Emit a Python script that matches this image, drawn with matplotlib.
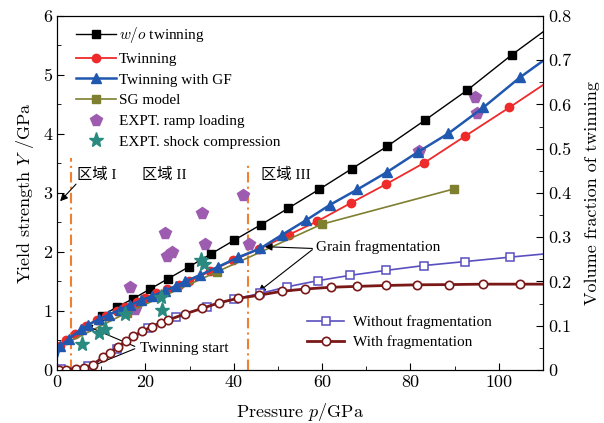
import matplotlib
matplotlib.use("Agg")
import matplotlib.pyplot as plt
from matplotlib.ticker import MultipleLocator, FuncFormatter

plt.rcParams['mathtext.fontset'] = 'cm'
plt.rcParams['axes.formatter.use_mathtext'] = True

# ---------------- data ----------------
# w/o twinning
p_wo = [0, 0.5, 1.2, 3, 6, 8, 10.1, 13.6, 17.3, 21.0, 25.2, 29.9, 34.9, 40.1, 46.1, 52.3,
        59.3, 66.7, 74.7, 83.4, 92.8, 102.9, 110]
y_wo = [0.22, 0.36, 0.45, 0.54, 0.71, 0.80, 0.915, 1.07, 1.21, 1.37, 1.55, 1.75, 1.97, 2.20,
        2.46, 2.74, 3.06, 3.41, 3.79, 4.24, 4.74, 5.34, 5.73]
# Twinning
p_tw = [0, 0.7, 2, 4, 6.5, 9, 11, 13.5, 15.5, 18, 20, 22.5, 25, 27.5, 29.9, 34.6, 39.9,
        45.7, 52.4, 58.9, 66.5, 74.5, 83.1, 92.3, 102.4, 110]
y_tw = [0.22, 0.40, 0.50, 0.61, 0.75, 0.85, 0.91, 1.00, 1.07, 1.15, 1.22, 1.30, 1.37, 1.44,
        1.50, 1.67, 1.86, 2.05, 2.29, 2.52, 2.83, 3.15, 3.51, 3.96, 4.45, 4.83]
# Twinning with GF
p_gf = [0, 0.7, 2.7, 5.5, 7.1, 9.5, 11.8, 14.2, 16.5, 19, 21.4, 24.4, 27, 29, 32.4, 36.5,
        41, 46, 50.9, 56.4, 61.8, 68, 74.6, 81.6, 88.6, 96.5, 104.8, 110]
y_gf = [0.22, 0.40, 0.53, 0.69, 0.77, 0.86, 0.94, 1.02, 1.10, 1.18, 1.25, 1.34, 1.43, 1.50,
        1.61, 1.75, 1.91, 2.06, 2.29, 2.54, 2.80, 3.06, 3.35, 3.69, 4.01, 4.45, 4.96, 5.24]
# SG model
p_sg = [2.8, 15.8, 36.1, 59.9, 89.9]
y_sg = [0.48, 0.97, 1.66, 2.47, 3.07]
# EXPT. ramp loading
p_ramp = [16.5, 17.7, 24.4, 24.9, 26.0, 32.9, 33.4, 42.2, 43.5, 81.9, 94.6, 95.0]
y_ramp = [1.41, 1.03, 2.32, 1.94, 2.00, 2.66, 2.14, 2.97, 2.13, 3.72, 4.63, 4.35]
# EXPT. shock compression
p_shock = [5.7, 9.4, 10.8, 15.4, 23.5, 23.8, 32.6, 33.3]
y_shock = [0.44, 0.63, 0.70, 0.95, 1.24, 1.02, 1.87, 1.80]
# volume fraction of twinning
p_nofrag = [0, 1, 7, 13.5, 20.5, 27, 33.9, 40, 46, 52.1, 59.1, 66.4, 74.4, 83.0, 92.3, 102.5, 110]
v_nofrag = [0.0, 0.002, 0.008, 0.048, 0.094, 0.120, 0.143, 0.160, 0.173, 0.188, 0.202, 0.214,
            0.225, 0.236, 0.245, 0.255, 0.262]
p_frag = [0.4, 2.1, 4.2, 6.2, 8.2, 10.3, 12.0, 13.9, 15.6, 17.3, 19.3, 21.4, 23.5, 25.2, 29.0,
          32.8, 36.7, 41.0, 45.8, 50.9, 56.2, 62.0, 68.0, 74.5, 81.4, 88.7, 96.5, 104.8, 110]
v_frag = [0.0, 0.0, 0.002, 0.005, 0.011, 0.029, 0.039, 0.053, 0.066, 0.077, 0.087, 0.098, 0.107,
          0.113, 0.127, 0.139, 0.152, 0.162, 0.169, 0.178, 0.183, 0.187, 0.189, 0.191, 0.1925,
          0.193, 0.194, 0.194, 0.194]
# region boundaries
p_bound = [3.1, 43.3]
y_bound_top = [3.6, 3.52]

# ---------------- figure ----------------
fig = plt.figure(figsize=(6.04, 4.23), dpi=100)
ax = fig.add_axes([0.0944, 0.1253, 0.8046, 0.8369])
ax2 = ax.twinx()

serif = ['Liberation Serif', 'Noto Sans CJK SC']
cjk = ['Liberation Serif', 'Noto Sans CJK SC']

c_black = '#000000'
c_red = '#EE2a2a'
c_blue = '#2058b0'
c_olive = '#7f7f30'
c_purple = '#9e5cb0'
c_teal = '#2a8a80'
c_nofrag = '#5a4fc0'
c_frag = '#7a1818'
c_orange = '#f08030'

for xb, yt in zip(p_bound, y_bound_top):
    ax.plot([xb, xb], [0, yt], color=c_orange, lw=1.5, dashes=[5, 2, 1, 2], zorder=1)

l1, = ax.plot(p_wo, y_wo, color=c_black, lw=1.0, marker='s', ms=5.2,
              markevery=list(range(6, len(p_wo) - 1)), label=r'$w/o$ twinning', zorder=3)
l2, = ax.plot(p_tw, y_tw, color=c_red, lw=1.3, marker='o', ms=6,
              markevery=list(range(1, len(p_tw) - 1)), label='Twinning', zorder=3)
l3, = ax.plot(p_gf, y_gf, color=c_blue, lw=1.8, marker='^', ms=6.5,
              markevery=list(range(1, len(p_gf) - 1)), label='Twinning with GF', zorder=4)
l4, = ax.plot(p_sg, y_sg, color=c_olive, lw=1.2, marker='s', ms=5.2,
              markevery=list(range(1, len(p_sg))), label='SG model', zorder=3)
l5, = ax.plot(p_ramp, y_ramp, ls='none', marker='p', ms=8.5, color=c_purple,
              label='EXPT. ramp loading', zorder=2)
l6, = ax.plot(p_shock, y_shock, ls='none', marker='*', ms=11, color=c_teal,
              label='EXPT. shock compression', zorder=5)

m1, = ax2.plot(p_nofrag, v_nofrag, color=c_nofrag, lw=1.2, marker='s', ms=5.2, mfc='white',
               mew=1.1, markevery=list(range(1, len(p_nofrag) - 1)),
               label='Without fragmentation')
m2, = ax2.plot(p_frag, v_frag, color=c_frag, lw=2.0, marker='o', ms=6, mfc='white',
               mew=1.2, markevery=list(range(0, len(p_frag) - 1)),
               label='With fragmentation')

ax.set_xlim(0, 110)
ax.set_ylim(0, 6)
ax2.set_ylim(0, 0.8)

ax.xaxis.set_major_locator(MultipleLocator(20))
ax.xaxis.set_minor_locator(MultipleLocator(10))
ax.yaxis.set_major_locator(MultipleLocator(1))
ax.yaxis.set_minor_locator(MultipleLocator(0.5))
ax2.yaxis.set_major_locator(MultipleLocator(0.1))
ax2.yaxis.set_minor_locator(MultipleLocator(0.05))
ax2.yaxis.set_major_formatter(FuncFormatter(lambda v, _: '0' if abs(v) < 1e-9 else f'{v:.1f}'))
ax.yaxis.set_major_formatter(FuncFormatter(lambda v, _: f'{v:.0f}'))
ax.xaxis.set_major_formatter(FuncFormatter(lambda v, _: f'{v:.0f}'))

ax.tick_params(which='both', direction='in', top=False, right=False, labelsize=13,
               labelfontfamily='cmr10')
ax.tick_params(which='major', length=5)
ax.tick_params(which='minor', length=3)
ax2.tick_params(which='both', direction='in', labelsize=13, labelfontfamily='cmr10')
ax2.tick_params(which='major', length=5)
ax2.tick_params(which='minor', length=3)

ax.set_xlabel(r'Pressure $p$/GPa', fontsize=13, family='cmr10', labelpad=8)
ax.set_ylabel(r'Yield strength $Y$ /GPa', fontsize=13, family='cmr10', labelpad=5)
ax2.set_ylabel('Volume fraction of twinning', fontsize=13, family='cmr10', labelpad=10)

leg1 = ax2.legend(handles=[l1, l2, l3, l4, l5, l6], loc='upper left',
                  bbox_to_anchor=(0.02, 1.0), frameon=False,
                  prop={'family': serif, 'size': 11}, handlelength=2.6,
                  handletextpad=0.2, labelspacing=0.46, borderaxespad=0.2)
ax2.add_artist(leg1)
ax2.legend(handles=[m1, m2], loc='lower left', bbox_to_anchor=(0.487, 0.02),
           frameon=False, prop={'family': serif, 'size': 11}, handlelength=2.4,
           handletextpad=0.6, labelspacing=0.42)

# region labels
ax.text(4.5, 3.3, '区域 I', family=cjk, fontsize=11, va='center', ha='left')
ax.text(19.2, 3.3, '区域 II', family=cjk, fontsize=11, va='center', ha='left')
ax.text(46.2, 3.3, '区域 III', family=cjk, fontsize=11, va='center', ha='left')

arrow = dict(arrowstyle='-|>', color='k', lw=0.8, mutation_scale=11, shrinkA=0, shrinkB=0)
ax.annotate('', xy=(0.7, 2.86), xytext=(4.3, 3.15), arrowprops=arrow)

ax.text(18.8, 0.37, 'Twinning start', family=serif, fontsize=11, va='center', ha='left')
ax.annotate('', xy=(6.3, 0.76), xytext=(17.6, 0.40), arrowprops=arrow)
ax.annotate('', xy=(5.8, 0.0), xytext=(17.6, 0.36), arrowprops=arrow)

ax.text(58.6, 2.08, 'Grain fragmentation', family=serif, fontsize=11, va='center', ha='left')
ax.annotate('', xy=(47.0, 2.09), xytext=(57.8, 2.06), arrowprops=arrow)
ax.annotate('', xy=(45.5, 1.32), xytext=(57.8, 2.04), arrowprops=arrow)

fig.savefig('out.png', dpi=100)
